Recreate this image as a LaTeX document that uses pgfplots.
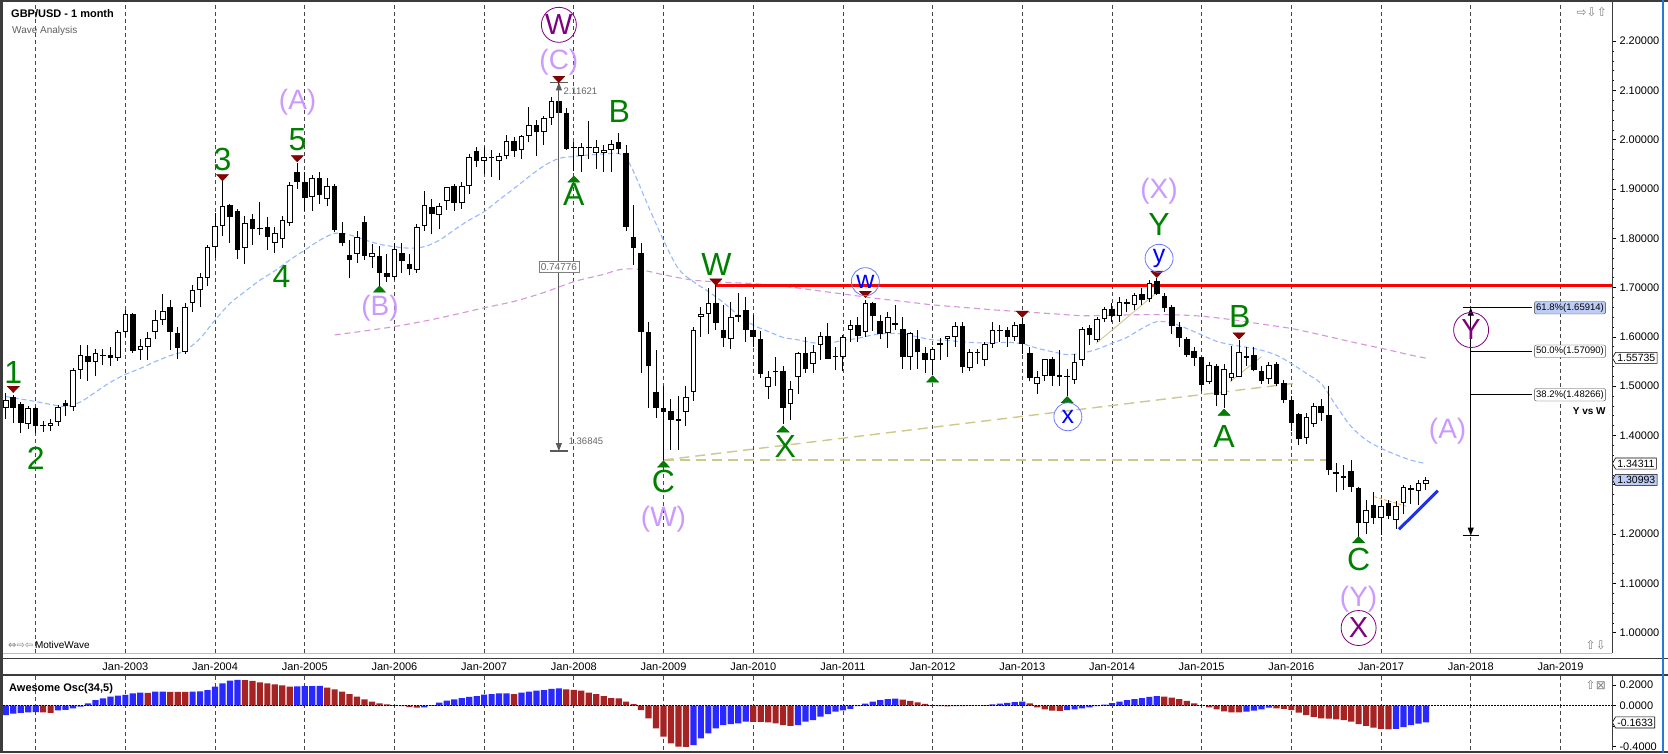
\documentclass[border=0pt]{standalone}
\usepackage{fontspec}
\setmainfont{Liberation Sans}
\newfontfamily\dejavu{DejaVu Sans}
\usepackage{pgfplots}
\usepackage{pgfplotstable}
\pgfplotsset{compat=1.18}
\usetikzlibrary{arrows.meta,shapes.symbols}

\definecolor{wgreen}{RGB}{0,128,0}
\definecolor{wlilac}{RGB}{204,153,255}
\definecolor{wpurple}{RGB}{128,0,128}
\definecolor{wblue}{RGB}{0,0,255}
\definecolor{wcirc}{RGB}{110,120,255}
\definecolor{trired}{RGB}{139,0,0}
\definecolor{maBlue}{RGB}{150,185,255}
\definecolor{maPink}{RGB}{215,150,220}
\definecolor{olivec}{RGB}{205,200,140}
\definecolor{aoBlue}{RGB}{40,40,255}
\definecolor{aoRed}{RGB}{165,35,35}
\definecolor{gridc}{RGB}{70,70,70}
\definecolor{tagblue}{RGB}{190,205,245}
\definecolor{framec}{RGB}{60,60,60}
\definecolor{trendblue}{RGB}{30,50,235}
\definecolor{winblue}{RGB}{40,120,215}

\newcommand{\fs}[1]{\fontsize{#1}{#1}\selectfont}

\pgfplotstableread{
m O H L C
-4 1.456 1.487 1.433 1.471
-3 1.479 1.482 1.425 1.455
-2 1.464 1.468 1.405 1.425
-1 1.424 1.460 1.413 1.456
0 1.456 1.458 1.405 1.419
1 1.419 1.430 1.407 1.422
2 1.420 1.434 1.410 1.426
3 1.428 1.461 1.420 1.458
4 1.465 1.472 1.440 1.459
5 1.457 1.536 1.450 1.533
6 1.533 1.583 1.515 1.563
7 1.561 1.583 1.510 1.550
8 1.550 1.575 1.520 1.568
9 1.564 1.576 1.542 1.561
10 1.563 1.580 1.540 1.557
11 1.557 1.614 1.552 1.610
12 1.610 1.654 1.600 1.646
13 1.646 1.649 1.568 1.572
14 1.573 1.596 1.553 1.581
15 1.579 1.610 1.554 1.598
16 1.610 1.654 1.595 1.634
17 1.634 1.688 1.625 1.653
18 1.661 1.675 1.573 1.610
19 1.608 1.620 1.555 1.577
20 1.570 1.668 1.565 1.661
21 1.668 1.705 1.651 1.695
22 1.695 1.730 1.660 1.721
23 1.719 1.787 1.703 1.783
24 1.782 1.852 1.760 1.824
25 1.824 1.922 1.805 1.866
26 1.868 1.870 1.790 1.844
27 1.856 1.860 1.757 1.776
28 1.780 1.845 1.748 1.832
29 1.839 1.850 1.786 1.818
30 1.818 1.874 1.806 1.821
31 1.822 1.843 1.777 1.802
32 1.791 1.822 1.770 1.811
33 1.798 1.845 1.780 1.837
34 1.832 1.915 1.825 1.908
35 1.934 1.953 1.900 1.915
36 1.915 1.935 1.856 1.881
37 1.884 1.928 1.855 1.922
38 1.922 1.935 1.870 1.888
39 1.879 1.922 1.866 1.906
40 1.906 1.910 1.812 1.817
41 1.810 1.833 1.785 1.790
42 1.766 1.797 1.720 1.756
43 1.768 1.815 1.750 1.803
44 1.834 1.845 1.755 1.764
45 1.762 1.788 1.740 1.770
46 1.764 1.785 1.702 1.730
47 1.729 1.768 1.711 1.721
48 1.721 1.790 1.715 1.778
49 1.771 1.790 1.730 1.753
50 1.748 1.768 1.725 1.737
51 1.736 1.830 1.730 1.822
52 1.824 1.895 1.815 1.867
53 1.864 1.880 1.808 1.849
54 1.847 1.872 1.818 1.866
55 1.876 1.905 1.858 1.904
56 1.906 1.910 1.855 1.871
57 1.871 1.915 1.860 1.906
58 1.907 1.970 1.890 1.964
59 1.978 1.985 1.945 1.957
60 1.957 1.985 1.930 1.964
61 1.962 1.980 1.925 1.965
62 1.957 1.972 1.918 1.967
63 1.966 2.010 1.960 1.998
64 1.998 2.005 1.965 1.978
65 1.980 2.010 1.960 2.007
66 2.008 2.066 1.995 2.030
67 2.030 2.040 1.966 2.016
68 2.016 2.048 1.990 2.043
69 2.043 2.086 2.030 2.079
70 2.079 2.116 2.050 2.055
71 2.055 2.065 1.980 1.982
72 1.986 1.995 1.937 1.983
73 1.966 1.993 1.935 1.985
74 1.986 2.038 1.960 1.983
75 1.974 2.000 1.940 1.985
76 1.974 1.990 1.935 1.980
77 1.979 2.000 1.935 1.991
78 1.996 2.014 1.970 1.982
79 1.973 1.990 1.815 1.823
80 1.802 1.867 1.746 1.780
81 1.770 1.790 1.527 1.610
82 1.610 1.630 1.456 1.541
83 1.489 1.573 1.435 1.455
84 1.455 1.500 1.350 1.448
85 1.450 1.475 1.370 1.431
86 1.433 1.480 1.370 1.430
87 1.448 1.500 1.420 1.479
88 1.489 1.620 1.470 1.615
89 1.641 1.660 1.600 1.646
90 1.646 1.700 1.605 1.668
91 1.668 1.7043 1.615 1.628
92 1.615 1.665 1.580 1.597
93 1.595 1.670 1.575 1.641
94 1.641 1.690 1.630 1.645
95 1.655 1.680 1.590 1.615
96 1.615 1.645 1.580 1.599
97 1.595 1.612 1.517 1.525
98 1.499 1.530 1.474 1.518
99 1.528 1.560 1.500 1.531
100 1.531 1.540 1.423 1.455
101 1.464 1.510 1.431 1.494
102 1.518 1.570 1.485 1.568
103 1.568 1.600 1.527 1.535
104 1.546 1.583 1.527 1.570
105 1.584 1.610 1.554 1.602
106 1.602 1.629 1.555 1.555
107 1.562 1.580 1.532 1.559
108 1.559 1.603 1.530 1.599
109 1.614 1.635 1.590 1.624
110 1.624 1.640 1.590 1.602
111 1.610 1.675 1.600 1.668
112 1.668 1.670 1.612 1.642
113 1.633 1.645 1.595 1.606
114 1.607 1.650 1.578 1.641
115 1.629 1.665 1.614 1.624
116 1.617 1.640 1.535 1.560
117 1.560 1.610 1.533 1.608
118 1.595 1.615 1.535 1.570
119 1.568 1.580 1.527 1.553
120 1.553 1.580 1.523 1.575
121 1.584 1.598 1.553 1.588
122 1.595 1.602 1.560 1.602
123 1.600 1.630 1.580 1.622
124 1.622 1.630 1.527 1.538
125 1.536 1.575 1.530 1.570
126 1.570 1.575 1.545 1.567
127 1.553 1.590 1.540 1.586
128 1.586 1.631 1.577 1.615
129 1.614 1.625 1.590 1.611
130 1.613 1.620 1.580 1.599
131 1.599 1.630 1.592 1.624
132 1.626 1.638 1.565 1.586
133 1.568 1.580 1.510 1.516
134 1.504 1.530 1.484 1.519
135 1.521 1.550 1.510 1.555
136 1.555 1.560 1.500 1.520
137 1.522 1.573 1.500 1.519
138 1.521 1.535 1.481 1.518
139 1.513 1.565 1.505 1.550
140 1.553 1.620 1.540 1.617
141 1.619 1.625 1.583 1.604
142 1.594 1.640 1.590 1.636
143 1.636 1.660 1.630 1.656
144 1.656 1.668 1.630 1.642
145 1.642 1.680 1.630 1.671
146 1.671 1.677 1.650 1.667
147 1.665 1.690 1.655 1.685
148 1.688 1.700 1.665 1.675
149 1.676 1.715 1.670 1.710
150 1.714 1.719 1.685 1.688
151 1.683 1.690 1.650 1.658
152 1.660 1.665 1.605 1.622
153 1.620 1.630 1.580 1.597
154 1.595 1.600 1.560 1.563
155 1.572 1.580 1.540 1.557
156 1.559 1.560 1.490 1.502
157 1.509 1.550 1.505 1.543
158 1.541 1.545 1.460 1.482
159 1.482 1.545 1.456 1.534
160 1.516 1.582 1.510 1.527
161 1.519 1.593 1.518 1.570
162 1.562 1.580 1.540 1.558
163 1.563 1.580 1.530 1.533
164 1.531 1.540 1.505 1.511
165 1.514 1.550 1.505 1.543
166 1.545 1.550 1.500 1.505
167 1.507 1.512 1.465 1.473
168 1.473 1.480 1.410 1.425
169 1.444 1.446 1.380 1.392
170 1.394 1.445 1.383 1.437
171 1.423 1.465 1.418 1.460
172 1.460 1.475 1.430 1.446
173 1.442 1.500 1.320 1.331
174 1.325 1.345 1.285 1.322
175 1.317 1.340 1.290 1.314
176 1.327 1.350 1.286 1.296
177 1.293 1.295 1.184 1.222
178 1.223 1.270 1.200 1.249
179 1.259 1.285 1.220 1.232
180 1.232 1.270 1.198 1.257
181 1.264 1.270 1.230 1.237
182 1.229 1.268 1.211 1.256
183 1.263 1.300 1.240 1.295
184 1.293 1.300 1.262 1.290
185 1.288 1.310 1.260 1.303
186 1.302 1.315 1.290 1.310
}\ohlc

\pgfplotstableread{
m v
-4 1.479
-2 1.474
0 1.469
2 1.463
4 1.459
6 1.468
8 1.488
10 1.508
12 1.524
14 1.536
16 1.550
18 1.562
20 1.572
22 1.597
24 1.634
26 1.668
28 1.692
30 1.715
32 1.734
34 1.756
36 1.776
38 1.796
40 1.810
42 1.807
44 1.797
46 1.788
48 1.783
50 1.780
52 1.783
54 1.796
56 1.817
58 1.837
60 1.854
62 1.878
64 1.901
66 1.925
68 1.947
70 1.962
72 1.966
74 1.969
76 1.971
78 1.972
79 1.962
80 1.935
82 1.864
84 1.796
86 1.738
88 1.712
90 1.692
92 1.670
94 1.644
96 1.624
98 1.611
100 1.599
102 1.594
104 1.588
106 1.587
108 1.593
110 1.597
112 1.604
114 1.607
116 1.606
118 1.600
120 1.594
122 1.593
124 1.590
126 1.588
128 1.588
130 1.589
132 1.586
134 1.577
136 1.570
138 1.564
140 1.567
142 1.575
144 1.587
146 1.599
148 1.617
150 1.631
152 1.628
154 1.617
156 1.604
158 1.591
160 1.584
162 1.579
164 1.573
166 1.563
168 1.546
170 1.526
172 1.505
174 1.460
176 1.418
178 1.391
180 1.374
182 1.361
184 1.350
186 1.343
}\maBlueT

\pgfplotstableread{
m v
40 1.604
44 1.612
48 1.621
52 1.632
56 1.645
60 1.659
64 1.672
68 1.690
72 1.712
76 1.727
78 1.736
80 1.738
82 1.733
84 1.726
88 1.715
92 1.711
96 1.708
100 1.703
104 1.695
108 1.687
112 1.679
116 1.672
120 1.665
124 1.660
128 1.655
132 1.651
136 1.647
140 1.643
144 1.644
148 1.645
152 1.645
156 1.642
160 1.635
164 1.626
168 1.617
172 1.604
176 1.590
180 1.577
184 1.563
186 1.557
}\maPinkT

\pgfplotstableread{
m v c
-4 -0.091 1
-3 -0.078 1
-2 -0.070 1
-1 -0.066 1
0 -0.062 1
1 -0.066 0
2 -0.069 0
3 -0.045 1
4 -0.040 1
5 -0.026 1
6 -0.010 1
7 0.023 1
8 0.055 1
9 0.072 1
10 0.088 1
11 0.098 1
12 0.106 1
13 0.120 1
14 0.127 1
15 0.124 0
16 0.137 1
17 0.138 1
18 0.136 0
19 0.135 0
20 0.134 0
21 0.137 1
22 0.139 1
23 0.153 1
24 0.185 1
25 0.218 1
26 0.245 1
27 0.252 1
28 0.250 0
29 0.241 0
30 0.228 0
31 0.218 0
32 0.208 0
33 0.198 0
34 0.186 0
35 0.188 1
36 0.190 1
37 0.192 1
38 0.193 1
39 0.176 0
40 0.160 0
41 0.137 0
42 0.114 0
43 0.088 0
44 0.062 0
45 0.039 0
46 0.023 0
47 0.013 0
48 0.005 0
49 -0.005 0
50 -0.015 0
51 -0.020 0
52 -0.016 1
53 0.005 1
54 0.030 1
55 0.050 1
56 0.062 1
57 0.075 1
58 0.086 1
59 0.094 1
60 0.108 1
61 0.114 1
62 0.120 1
63 0.121 1
64 0.114 0
65 0.127 1
66 0.137 1
67 0.146 1
68 0.153 1
69 0.163 1
70 0.170 1
71 0.160 0
72 0.155 0
73 0.146 0
74 0.127 0
75 0.114 0
76 0.094 0
77 0.075 0
78 0.072 0
79 0.040 0
80 0.016 0
81 -0.042 0
82 -0.124 0
83 -0.221 0
84 -0.302 0
85 -0.367 0
86 -0.400 0
87 -0.402 0
88 -0.384 1
89 -0.319 1
90 -0.270 1
91 -0.221 1
92 -0.189 1
93 -0.179 1
94 -0.172 1
95 -0.156 1
96 -0.158 0
97 -0.159 0
98 -0.163 0
99 -0.172 0
100 -0.189 0
101 -0.198 0
102 -0.189 1
103 -0.156 1
104 -0.140 1
105 -0.107 1
106 -0.081 1
107 -0.059 1
108 -0.045 1
109 -0.030 1
110 -0.005 1
111 0.020 1
112 0.040 1
113 0.055 1
114 0.065 1
115 0.068 1
116 0.060 0
117 0.048 0
118 0.033 0
119 0.018 0
120 0.006 0
121 -0.003 0
122 -0.006 0
123 -0.003 1
124 -0.004 0
125 -0.002 1
126 0.001 1
127 0.006 1
128 0.012 1
129 0.020 1
130 0.028 1
131 0.035 1
132 0.040 1
133 0.022 0
134 -0.016 0
135 -0.036 0
136 -0.049 0
137 -0.050 0
138 -0.042 1
139 -0.036 1
140 -0.026 1
141 -0.016 1
142 -0.003 1
143 0.010 1
144 0.025 1
145 0.040 1
146 0.055 1
147 0.065 1
148 0.075 1
149 0.085 1
150 0.094 1
151 0.088 0
152 0.078 0
153 0.065 0
154 0.046 0
155 0.023 0
156 -0.002 0
157 -0.016 0
158 -0.036 0
159 -0.055 0
160 -0.065 0
161 -0.066 0
162 -0.059 1
163 -0.049 1
164 -0.036 1
165 -0.020 1
166 -0.026 0
167 -0.030 0
168 -0.042 0
169 -0.068 0
170 -0.091 0
171 -0.110 0
172 -0.124 0
173 -0.127 0
174 -0.133 0
175 -0.140 0
176 -0.156 0
177 -0.179 0
178 -0.198 0
179 -0.215 0
180 -0.225 0
181 -0.231 0
182 -0.225 1
183 -0.210 1
184 -0.190 1
185 -0.175 1
186 -0.163 1
}\ao

\begin{document}
\begin{tikzpicture}[x=1pt,y=1pt]
\useasboundingbox (0,0) rectangle (1668,753);
\fill[white] (0,0) rectangle (1668,753);

% ---------------- main price panel ----------------
\begin{axis}[
  at={(3pt,100pt)}, anchor=south west, scale only axis,
  width=1609pt, height=650pt,
  xmin=-4.37, xmax=210.9, ymin=0.95882, ymax=2.27728,
  clip mode=individual,
  axis line style={draw=none},
  xtick={0,12,...,204},
  xticklabels={,Jan-2003,Jan-2004,Jan-2005,Jan-2006,Jan-2007,Jan-2008,Jan-2009,Jan-2010,Jan-2011,Jan-2012,Jan-2013,Jan-2014,Jan-2015,Jan-2016,Jan-2017,Jan-2018,Jan-2019},
  xtick style={draw=none},
  xticklabel style={anchor=center, yshift=-14pt, font=\fs{11}},
  xmajorgrids,
  grid style={draw=gridc, dash pattern=on 4pt off 3pt, line width=0.7pt},
  ytick={1,1.1,1.2,1.3,1.4,1.5,1.6,1.7,1.8,1.9,2,2.1,2.2},
  yticklabels={1.00000,1.10000,1.20000,,1.40000,1.50000,1.60000,1.70000,1.80000,1.90000,2.00000,2.10000,2.20000},
  ytick pos=right, yticklabel pos=right, ytick align=outside,
  ytick style={draw=black, line width=0.6pt},
  major tick length=4pt, minor y tick num=4, minor tick length=2pt,
  yticklabel style={font=\fs{11}},
]
% moving averages
\addplot[maPink, dash pattern=on 6pt off 4pt, line width=1.1pt, smooth, forget plot] table[x=m,y=v] {\maPinkT};
\addplot[maBlue, dash pattern=on 5pt off 3pt, line width=1.1pt, smooth, forget plot] table[x=m,y=v] {\maBlueT};
% trend / channel lines
\addplot[olivec, dash pattern=on 10pt off 6pt, line width=1.4pt, forget plot] coordinates {(84,1.3503) (173.5,1.3503)};
\addplot[olivec, dash pattern=on 10pt off 6pt, line width=1.4pt, forget plot] coordinates {(84,1.3503) (168.5,1.506)};
\addplot[olivec, line width=0.9pt, forget plot] coordinates {(141.9,1.587) (150.4,1.695)};
\addplot[olivec, line width=0.9pt, forget plot] coordinates {(159.8,1.509) (164,1.56)};
\addplot[orange!70, dash pattern=on 3pt off 2pt, line width=0.9pt, forget plot] coordinates {(179.1,1.2758) (183.6,1.2556)};
% resistance
\addplot[red, line width=3pt, forget plot] coordinates {(91,1.7043) (210.9,1.7043)};
% candles: wicks, bodies, hollow bodies
\addplot[draw=none, mark=none, forget plot,
  error bars/.cd, y dir=plus, y explicit, error mark=none,
  error bar style={draw=black, solid, line width=1pt}]
  table[x=m, y=L, y error plus expr={\thisrow{H}-\thisrow{L}}] {\ohlc};
\addplot[draw=none, mark=none, forget plot,
  error bars/.cd, y dir=plus, y explicit, error mark=none,
  error bar style={draw=black, solid, line width=5.6pt}]
  table[x=m, y expr={min(\thisrow{O},\thisrow{C})}, y error plus expr={abs(\thisrow{C}-\thisrow{O})}] {\ohlc};
\addplot[draw=none, mark=none, forget plot,
  error bars/.cd, y dir=plus, y explicit, error mark=none,
  error bar style={draw=white, solid, line width=3.6pt}]
  table[x=m, y expr={\thisrow{O}+0.00203}, y error plus expr={max(\thisrow{C}-\thisrow{O}-0.00406,0)}] {\ohlc};
% blue trendline
\addplot[trendblue, line width=3pt, forget plot] coordinates {(182.4,1.2097) (187.6,1.288)};

% measurement tool
\draw[gray!70!black, line width=1pt, {Triangle[length=8pt,width=6pt]}-{Triangle[length=8pt,width=6pt]}] (axis cs:70,2.11621) -- (axis cs:70,1.36845);
\draw[gray!70!black, line width=1.2pt] (axis cs:68.8,2.11621) -- (axis cs:71.2,2.11621);
\draw[gray!70!black, line width=1.2pt] (axis cs:68.8,1.36845) -- (axis cs:71.2,1.36845);
\node[anchor=west, font=\fs{9.5}, text=gray!80!black, inner sep=0pt] at (axis cs:70.6,2.099) {2.11621};
\node[anchor=west, font=\fs{9.5}, text=gray!80!black, inner sep=0pt] at (axis cs:71.3,1.389) {1.36845};
\node[draw=gray, fill=white, font=\fs{10}, text=gray!80!black, inner sep=2pt] at (axis cs:70,1.742) {0.74776};

% fibonacci tool
\draw[black, line width=1pt, {Triangle[length=8pt,width=6pt]}-{Triangle[length=8pt,width=6pt]}] (axis cs:192,1.65914) -- (axis cs:192,1.19702);
\draw[black, line width=1.2pt] (axis cs:190.9,1.65914) -- (axis cs:193.1,1.65914);
\draw[black, line width=1.2pt] (axis cs:190.9,1.19702) -- (axis cs:193.1,1.19702);
\draw[black, line width=0.8pt] (axis cs:192,1.65914) -- (axis cs:200.2,1.65914);
\draw[black, line width=0.8pt] (axis cs:192,1.57090) -- (axis cs:200.2,1.57090);
\draw[black, line width=0.8pt] (axis cs:192,1.48266) -- (axis cs:200.2,1.48266);
\node[draw=gray!50!black, fill=tagblue, rounded corners=2pt, inner sep=1.8pt, font=\fs{9.5}, anchor=east] at (axis cs:210.07,1.65914) {61.8\%(1.65914)};
\node[draw=gray!50!black, fill=white, rounded corners=2pt, inner sep=1.8pt, font=\fs{9.5}, anchor=east] at (axis cs:210.07,1.57090) {50.0\%(1.57090)};
\node[draw=gray!50!black, fill=white, rounded corners=2pt, inner sep=1.8pt, font=\fs{9.5}, anchor=east] at (axis cs:210.07,1.48266) {38.2\%(1.48266)};
\node[anchor=east, font=\bfseries\fs{10}, inner sep=0pt] at (axis cs:210.07,1.4497) {Y vs W};

% wave markers
\addplot[only marks, forget plot, mark=triangle*, mark size=7pt,
  mark options={yscale=0.6, rotate=180, fill=trired, draw=black!60!red, line width=0.4pt}]
  coordinates {(-3,1.4957) (25,1.925) (35,1.9635) (70,2.1245) (91,1.7134) (111,1.6884) (132,1.648) (150,1.729) (161,1.604)};
\addplot[only marks, forget plot, mark=triangle*, mark size=7pt,
  mark options={yscale=0.6, fill=wgreen, draw=black!60!green, line width=0.4pt}]
  coordinates {(46,1.695) (72,1.918) (84,1.340) (100,1.411) (120,1.5126) (138,1.4706) (159,1.445) (177,1.1866)};

% green wave labels
\begin{scope}[every node/.style={text=wgreen, font=\fs{32}, inner sep=0pt}]
\node at (axis cs:-3,1.527) {1};
\node at (axis cs:0,1.354) {2};
\node at (axis cs:25,1.959) {3};
\node at (axis cs:32.9,1.722) {4};
\node at (axis cs:35.05,2.001) {5};
\node at (axis cs:72,1.888) {A};
\node at (axis cs:78.07,2.057) {B};
\node at (axis cs:91.1,1.746) {W};
\node at (axis cs:84,1.306) {C};
\node at (axis cs:100.3,1.377) {X};
\node at (axis cs:150.3,1.827) {Y};
\node at (axis cs:161.1,1.641) {B};
\node at (axis cs:159,1.398) {A};
\node at (axis cs:177,1.1475) {C};
\end{scope}
% lilac labels
\begin{scope}[every node/.style={text=wlilac, font=\fs{28}, inner sep=0pt}]
\node at (axis cs:35.05,2.075) {(A)};
\node at (axis cs:46.06,1.658) {(B)};
\node at (axis cs:70,2.158) {(C)};
\node at (axis cs:84,1.231) {(W)};
\node at (axis cs:150.3,1.8945) {(X)};
\node at (axis cs:177,1.068) {(Y)};
\node at (axis cs:188.9,1.408) {(A)};
\end{scope}
% circled purple
\begin{scope}[every node/.style={circle, draw=wpurple, line width=0.8pt, minimum size=35pt, inner sep=0pt, text=wpurple, font=\fs{29}}]
\node at (axis cs:70,2.233) {W};
\node at (axis cs:177,1.0095) {X};
\node at (axis cs:192.05,1.614) {Y};
\end{scope}
% circled blue
\begin{scope}[every node/.style={circle, draw=wcirc, line width=0.8pt, minimum size=28pt, inner sep=0pt, text=wblue, font=\fs{25}}]
\node at (axis cs:111,1.712) {w};
\node at (axis cs:138.1,1.438) {x};
\node at (axis cs:150.3,1.7594) {y};
\end{scope}

% price tags on the right axis
\begin{scope}[every node/.style={signal, signal to=west, signal pointer angle=120, draw=black, line width=0.6pt, font=\fs{10.5}, inner sep=1.8pt, anchor=west}]
\node[fill=white] at (axis cs:210.9,1.55735) {1.55735};
\node[fill=white] at (axis cs:210.9,1.34311) {1.34311};
\node[fill=tagblue] at (axis cs:210.9,1.30993) {1.30993};
\end{scope}
\end{axis}

% ---------------- oscillator panel ----------------
\begin{axis}[
  at={(3pt,3pt)}, anchor=south west, scale only axis,
  width=1609pt, height=75pt,
  xmin=-4.37, xmax=210.9, ymin=-0.4322, ymax=0.2995,
  clip mode=individual,
  axis line style={draw=none},
  xtick={0,12,...,204}, xticklabels={}, xtick style={draw=none},
  xmajorgrids,
  grid style={draw=gridc, dash pattern=on 4pt off 3pt, line width=0.7pt},
  ytick={-0.4,-0.2,0,0.2}, yticklabels={-0.4000,,0.0000,0.2000},
  ytick pos=right, yticklabel pos=right, ytick align=outside,
  ytick style={draw=black, line width=0.6pt},
  major tick length=4pt,
  yticklabel style={font=\fs{11}},
]
\addplot[ybar, bar width=6.2pt, bar shift=0pt, fill=aoBlue, draw=none, forget plot] table[x=m, y expr={\thisrow{c}*\thisrow{v}}] {\ao};
\addplot[ybar, bar width=6.2pt, bar shift=0pt, fill=aoRed, draw=none, forget plot] table[x=m, y expr={(1-\thisrow{c})*\thisrow{v}}] {\ao};
\addplot[black, dash pattern=on 1.5pt off 1.5pt, line width=0.8pt, forget plot] coordinates {(-4.37,0) (210.9,0)};
\node[signal, signal to=west, signal pointer angle=120, draw=black, line width=0.6pt, fill=white, font=\fs{10.5}, inner sep=1.8pt, anchor=west] at (axis cs:210.9,-0.1633) {-0.1633};
\end{axis}

% ---------------- frame and captions ----------------
\fill[framec] (0,0) rectangle (2.5,753);
\fill[framec] (0,750.5) rectangle (1668,753);
\fill[framec] (0,0) rectangle (1668,2);
\draw[framec, line width=0.8pt] (1612,100) -- (1612,750.5);
\draw[framec, line width=0.8pt] (1612,3) -- (1612,78);
\draw[gray!50, line width=0.8pt] (2.5,100) -- (1612,100);
\draw[framec, line width=0.8pt] (2.5,95) -- (1668,95);
\draw[framec, line width=1.2pt] (2.5,78) -- (1668,78);
\draw[winblue, line width=2pt] (1663,0) -- (1663,753);

\node[anchor=north west, font=\bfseries\fs{11}, inner sep=0pt] at (11,744) {GBP/USD - 1 month};
\node[anchor=north west, font=\fs{10}, text=gray!75!black, inner sep=0pt] at (12,726.5) {Wave Analysis};
\node[anchor=west, font=\fs{10}, inner sep=0pt] at (8,108.5) {{\dejavu\color{gray}⇔⇨⇦}\,MotiveWave};
\node[anchor=east, font=\dejavu\fs{12}, text=gray, inner sep=0pt] at (1607,741) {⇨⇩⇧};
\node[anchor=east, font=\dejavu\fs{12}, text=gray, inner sep=0pt] at (1606,108) {⇧⇩};
\node[anchor=east, font=\dejavu\fs{12}, text=gray, inner sep=0pt] at (1606,68) {⇧⊠};
\node[anchor=west, font=\bfseries\fs{11}, inner sep=0pt] at (9,64.5) {Awesome Osc(34,5)};
\end{tikzpicture}
\end{document}
